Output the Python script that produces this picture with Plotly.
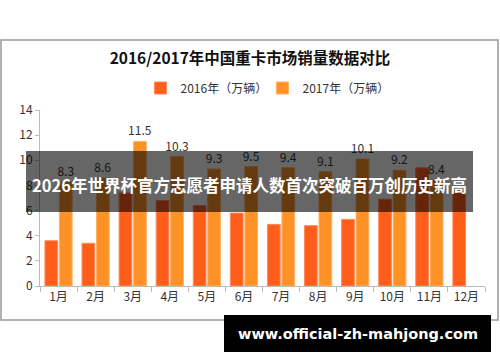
import plotly.graph_objects as go

months = ["1月", "2月", "3月", "4月", "5月", "6月", "7月", "8月", "9月", "10月", "11月", "12月"]
sales_2016 = [3.6, 3.4, 7.4, 6.8, 6.4, 5.8, 4.9, 4.8, 5.3, 6.9, 9.4, 7.5]
sales_2017 = [8.3, 8.6, 11.5, 10.3, 9.3, 9.5, 9.4, 9.1, 10.1, 9.2, 8.4, None]
y_ticks = [0, 2, 4, 6, 8, 10, 12, 14]

FONT = "Noto Sans CJK SC, Noto Sans, sans-serif"

fig = go.Figure()
fig.add_trace(go.Bar(
    x=months, y=sales_2016, name="2016年（万辆）",
    marker=dict(color="#FF5E1A", line=dict(color="#FF8A5C", width=1)),
))
fig.add_trace(go.Bar(
    x=months, y=sales_2017, name="2017年（万辆）",
    marker=dict(color="#FF9226", line=dict(color="#FFB266", width=1)),
    text=[("" if v is None else f"{v}") for v in sales_2017],
    textposition="outside", cliponaxis=False, constraintext="none",
    textfont=dict(size=12, color="#333333", family=FONT),
))

fig.update_layout(
    width=500, height=362,
    margin=dict(l=40, r=15, t=110, b=76),
    paper_bgcolor="white", plot_bgcolor="white",
    barmode="group", bargap=0.22, bargroupgap=0.12,
    font=dict(family=FONT, size=12, color="#333333"),
    showlegend=True,
    title=dict(text="<b>2016/2017年中国重卡市场销量数据对比</b>", x=0.5, xanchor="center",
               y=1 - 59 / 362, yanchor="middle", yref="container",
               font=dict(size=15.5, color="#111111", family=FONT)),
    legend=dict(orientation="h", x=0.5, xanchor="center", y=1.125, yanchor="middle",
                font=dict(size=12, color="#333333"), itemwidth=30, traceorder="normal",
                entrywidth=77, entrywidthmode="pixels",
                bgcolor="rgba(0,0,0,0)"),
    xaxis=dict(showline=True, linecolor="#BBBBBB", linewidth=1, ticks="outside",
               tickson="boundaries", tickcolor="#BBBBBB", ticklen=5,
               tickfont=dict(size=12, color="#333333"), showgrid=False),
    yaxis=dict(range=[0, 14], tickvals=y_ticks, showline=True, linecolor="#BBBBBB",
               linewidth=1, ticks="outside", tickcolor="#BBBBBB", ticklen=4,
               tickfont=dict(size=12, color="#333333"), showgrid=False, zeroline=False),
)

def px_x(p):
    return (p - 40) / 445

def px_y(p):
    return (286 - p) / 176

shapes = [
    dict(type="rect", xref="paper", yref="paper", x0=px_x(1), x1=px_x(498),
         y0=px_y(320), y1=px_y(40), line=dict(color="#999999", width=1.5),
         fillcolor="rgba(0,0,0,0)", layer="below"),
    dict(type="rect", xref="paper", yref="paper", x0=px_x(26), x1=px_x(473),
         y0=px_y(212), y1=px_y(151), line=dict(width=0),
         fillcolor="rgba(0,0,0,0.6)", layer="above"),
    dict(type="rect", xref="paper", yref="paper", x0=px_x(224), x1=px_x(491),
         y0=px_y(352), y1=px_y(315), line=dict(width=0),
         fillcolor="#000000", layer="above"),
]
fig.update_layout(shapes=shapes)

fig.add_annotation(xref="paper", yref="paper", x=px_x(249.5), y=px_y(185),
                   text="<b>2026年世界杯官方志愿者申请人数首次突破百万创历史新高</b>",
                   showarrow=False, xanchor="center", yanchor="middle",
                   font=dict(size=16.5, color="white", family=FONT))
fig.add_annotation(xref="paper", yref="paper", x=px_x(357.5), y=px_y(333.5),
                   text="<b>www.official-zh-mahjong.com</b>",
                   showarrow=False, xanchor="center", yanchor="middle",
                   font=dict(size=14.5, color="white", family="DejaVu Sans, sans-serif"))

fig.write_html("out.html", config={"displayModeBar": False},
               post_script="document.body.style.margin='0';")
